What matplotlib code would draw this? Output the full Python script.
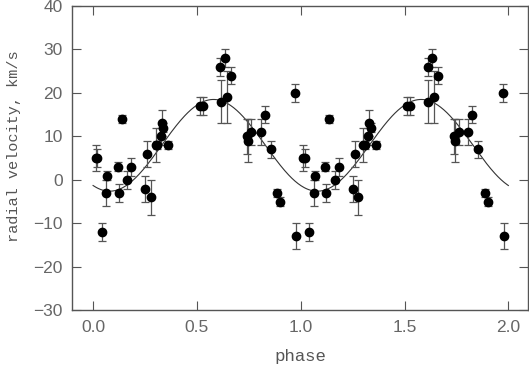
import numpy as np
import matplotlib.pyplot as plt

# measured radial velocities, phase 0..1 (plotted twice, 0-1 and 1-2)
phase = [0.013, 0.021, 0.042, 0.063, 0.067, 0.118, 0.124, 0.138, 0.164, 0.183,
         0.251, 0.259, 0.278, 0.301, 0.310, 0.325, 0.331, 0.339, 0.361,
         0.514, 0.527, 0.611, 0.633, 0.662, 0.615, 0.644,
         0.739, 0.744, 0.760, 0.808, 0.827, 0.856, 0.887, 0.901, 0.973, 0.977]
rv = [5, 5, -12, -3, 1, 3, -3, 14, 0, 3,
      -2, 6, -4, 8, 8, 10, 13, 12, 8,
      17, 17, 26, 28, 24, 18, 19,
      10, 9, 11, 11, 15, 7, -3, -5, 20, -13]
rv_err = [3, 2, 2, 3, 1, 1, 2, 1, 2, 2,
          3, 3, 4, 4, 1, 2, 3, 1, 1,
          2, 2, 2, 2, 2, 5, 6,
          4, 5, 3, 3, 2, 2, 1, 1, 2, 3]

# fitted orbit (sine model)
gamma = 7.95
K = 10.55
phi0 = 0.08

ph = np.array(phase)
ph2 = np.concatenate([ph, ph + 1])
v2 = np.concatenate([rv, rv])
e2 = np.concatenate([rv_err, rv_err])

fig = plt.figure(figsize=(5.29, 3.68), dpi=100)
ax = fig.add_axes([0.1367, 0.1568, 0.9975 - 0.1367, 0.9837 - 0.1568])

grid = np.linspace(0, 2, 400)
ax.plot(grid, gamma - K * np.cos(2 * np.pi * (grid - phi0)), color='#333333', lw=0.8)

ax.errorbar(ph2, v2, yerr=e2, fmt='o', color='black', ms=6,
            ecolor='#555555', elinewidth=0.9, capsize=3, capthick=0.9)

ax.set_xlim(-0.1, 2.093)
ax.set_ylim(-30, 40)
ax.set_xticks([0.0, 0.5, 1.0, 1.5, 2.0])
ax.set_yticks(range(-30, 41, 10))
ax.set_xticklabels(['0.0', '0.5', '1.0', '1.5', '2.0'])

for s in ax.spines.values():
    s.set_color('#555555')
    s.set_linewidth(1.0)
ax.tick_params(direction='in', top=True, right=True, length=6.5, width=0.8,
               color='#555555', labelcolor='#666666', labelsize=12.5, pad=7)
for lab in ax.get_xticklabels() + ax.get_yticklabels():
    lab.set_family('Liberation Sans')

ax.set_xlabel('phase', family='Liberation Mono', fontsize=12.5, color='#555555', labelpad=10)
ax.set_ylabel('radial velocity, km/s', family='Liberation Mono', fontsize=11,
              color='#555555')
ax.yaxis.set_label_coords(-0.112, 0.538)

fig.savefig('out.png', dpi=100)
